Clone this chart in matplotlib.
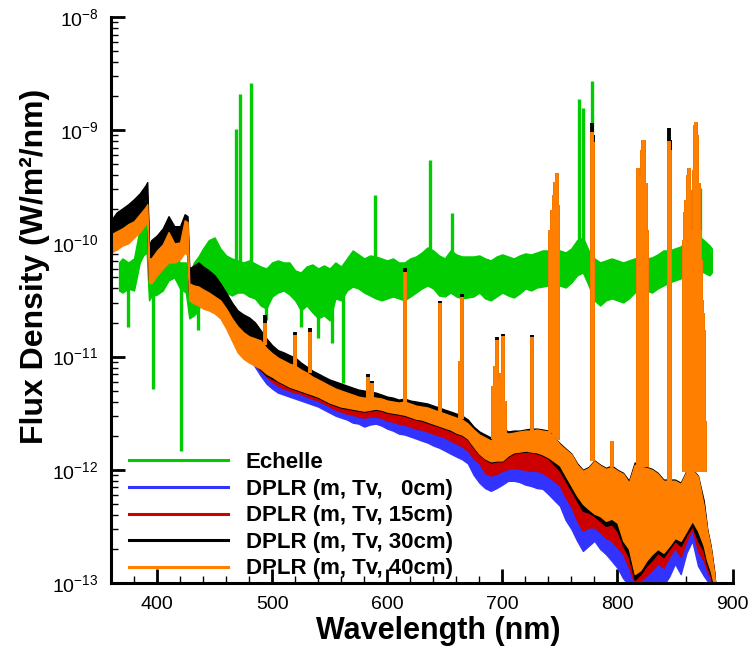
import numpy as np
import matplotlib.pyplot as plt
from matplotlib.lines import Line2D
from matplotlib.ticker import MultipleLocator, LogLocator, NullFormatter

plt.rcParams['font.family'] = 'Liberation Sans'
plt.rcParams['mathtext.fontset'] = 'custom'
plt.rcParams['mathtext.rm'] = 'Liberation Sans'
plt.rcParams['mathtext.it'] = 'Liberation Sans:italic'
plt.rcParams['mathtext.bf'] = 'Liberation Sans:bold'

# all flux values below are tabulated in units of 1e-12 W/m^2/nm
UNIT = 1e-12

# ---- Echelle measurement: noise band (upper / lower edge) ----
ech_wl = [367, 370, 375, 380, 385, 388, 391, 393, 395, 400,
          405, 410, 415, 420, 425, 428, 432, 436, 440, 445,
          450, 455, 460, 465, 470, 475, 480, 485, 490, 495,
          500, 505, 510, 515, 520, 525, 530, 535, 540, 545,
          550, 555, 560, 565, 570, 575, 580, 585, 590, 595,
          600, 605, 610, 615, 620, 625, 630, 635, 640, 645,
          650, 655, 660, 665, 670, 675, 680, 685, 690, 695,
          700, 705, 710, 715, 720, 725, 730, 735, 740, 745,
          750, 755, 760, 765, 770, 775, 780, 785, 790, 795,
          800, 805, 810, 815, 820, 825, 830, 835, 840, 845,
          850, 855, 860, 865, 870, 875, 880, 882]
ech_hi = [67.9, 73.7, 67.9, 73.7, 136, 154, 145, 57.7, 67.9, 70.8,
          76.7, 80.0, 78.3, 67.9, 67.9, 52.2, 67.9, 76.7, 90.3, 107,
          113, 90.3, 78.3, 73.7, 70.8, 67.9, 70.8, 66.6, 62.6, 60.1,
          67.9, 70.8, 67.9, 67.9, 57.7, 55.4, 62.6, 65.2, 60.1, 63.9,
          60.1, 67.9, 62.6, 73.7, 86.7, 80.0, 73.7, 78.3, 76.7, 73.7,
          70.8, 73.7, 67.9, 67.9, 73.7, 76.7, 83.2, 92.2, 86.7, 78.3,
          73.7, 86.7, 80.0, 76.7, 76.7, 76.7, 78.3, 73.7, 70.8, 76.7,
          80.0, 76.7, 73.7, 78.3, 81.6, 80.0, 83.2, 86.7, 86.7, 83.2,
          86.7, 83.2, 90.3, 107, 113, 86.7, 73.7, 67.9, 70.8, 73.7,
          70.8, 67.9, 70.8, 73.7, 76.7, 73.7, 75.2, 80.0, 86.7, 86.7,
          90.3, 94.1, 107, 113, 118, 107, 96.0, 90.3]
ech_lo = [38.4, 36.8, 40.0, 38.4, 67.9, 78.3, 83.2, 31.4, 34.0, 35.4,
          38.4, 47.1, 50.1, 40.0, 36.8, 21.8, 23.1, 25.6, 36.8, 42.5,
          40.0, 38.4, 36.8, 34.7, 36.8, 36.8, 34.0, 32.7, 28.3, 26.6,
          34.0, 36.8, 38.4, 35.4, 31.4, 25.6, 28.3, 24.6, 21.8, 23.1,
          20.9, 32.7, 31.4, 38.4, 41.6, 40.0, 36.8, 34.7, 32.7, 31.4,
          32.7, 34.0, 32.7, 31.4, 34.0, 36.8, 40.0, 42.5, 40.0, 34.7,
          34.0, 36.8, 34.0, 32.7, 33.3, 34.0, 36.8, 32.7, 31.4, 34.0,
          36.8, 34.7, 33.3, 36.1, 40.0, 38.4, 40.8, 41.6, 42.5, 40.0,
          42.5, 40.8, 45.2, 52.2, 55.4, 42.5, 31.4, 28.3, 31.4, 32.7,
          31.4, 30.1, 32.7, 36.8, 38.4, 38.4, 36.8, 40.0, 42.5, 45.2,
          47.1, 49.1, 55.4, 60.1, 57.7, 55.4, 52.2, 55.4]

# Echelle emission lines and absorption dips
ech_up_wl = [468.2, 472.2, 481.5, 589.3, 637, 656.3, 766.5, 770.5, 778.3, 872]
ech_up_base = [60, 60, 60, 55, 60, 55, 70, 70, 70, 80]
ech_up_peak = [1020, 2090, 2610, 266, 543, 185, 1890, 1570, 2720, 307]
ech_dn_wl = [374.6, 396.3, 420.9, 436, 495, 525, 540, 552, 561.7]
ech_dn_top = [55, 50, 55, 45, 40, 40, 40, 40, 45]
ech_dn_bottom = [18.2, 5.22, 1.48, 17.1, 20.9, 18.2, 14.5, 13.1, 5.90]

# ---- DPLR spectra: upper / lower edge of each band ----
dplr_wl = [360, 365, 370, 375, 380, 385, 390, 391.5, 393, 395,
           400, 405, 410, 415, 420, 424, 426.5, 428, 432, 436,
           440, 445, 450, 455, 460, 465, 470, 475, 480, 485,
           490, 495, 500, 505, 510, 515, 520, 525, 530, 535,
           540, 545, 550, 555, 560, 565, 570, 575, 580, 585,
           590, 595, 600, 605, 610, 615, 620, 625, 630, 635,
           640, 645, 650, 655, 660, 665, 670, 675, 680, 685,
           690, 695, 700, 705, 710, 715, 720, 725, 730, 735,
           740, 745, 750, 755, 760, 765, 770, 775, 780, 785,
           790, 795, 800, 805, 810, 815, 820, 825, 830, 835,
           840, 845, 850, 855, 860, 865, 870, 875, 878, 881,
           884, 886]

hi_0cm = [128, 139, 154, 163, 181, 204, 236, 246, 81.6, 79.9,
          92.2, 105, 123, 113, 113, 148, 139, 49.1, 48.1, 47.1,
          44.3, 41.6, 38.4, 34.0, 29.5, 24.1, 20.1, 18.1, 17.1, 16.0,
          14.2, 12.6, 11.2, 10.3, 9.8, 9.22, 8.85, 7.99, 7.37, 6.79,
          6.39, 6.02, 5.66, 5.43, 5.22, 5.01, 4.81, 4.62, 4.52, 4.43,
          4.34, 4.17, 4.01, 3.93, 3.77, 3.85, 3.69, 3.62, 3.55, 3.47,
          3.33, 3.20, 3.07, 2.95, 2.83, 2.72, 2.51, 2.18, 1.97, 1.85,
          1.74, 1.93, 2.13, 1.97, 2.01, 2.01, 2.05, 2.09, 2.09, 2.05,
          2.01, 1.74, 1.54, 1.42, 1.29, 1.04, 0.90, 0.96, 1.09, 1.00,
          0.94, 0.98, 0.90, 0.85, 0.722, 1.04, 0.98, 0.96, 0.92, 0.85,
          0.74, 0.74, 0.74, 0.69, 0.885, 0.92, 0.80, 0.481, 0.278, 0.20,
          0.123, 0.077]
lo_0cm = [94.1, 100, 109, 113, 126, 142, 167, 181, 51.2, 50.1,
          58.9, 67.9, 76.7, 76.7, 81.6, 94.1, 88.5, 35.4, 33.3, 32.0,
          30.1, 28.9, 27.2, 24.6, 20.1, 15.7, 12.4, 10.9, 10.0, 8.16,
          6.79, 5.78, 5.22, 4.81, 4.62, 4.43, 4.26, 4.09, 3.93, 3.77,
          3.62, 3.40, 3.20, 3.01, 2.89, 2.78, 2.61, 2.56, 2.41, 2.51,
          2.56, 2.46, 2.31, 2.22, 2.09, 2.05, 1.97, 1.89, 1.81, 1.74,
          1.64, 1.57, 1.48, 1.39, 1.31, 1.24, 1.14, 0.904, 0.77, 0.69,
          0.652, 0.69, 0.74, 0.80, 0.80, 0.78, 0.74, 0.72, 0.69, 0.68,
          0.61, 0.54, 0.48, 0.36, 0.30, 0.236, 0.192, 0.213, 0.236, 0.20,
          0.18, 0.157, 0.136, 0.11, 0.095, 0.086, 0.086, 0.086, 0.10, 0.105,
          0.095, 0.114, 0.148, 0.12, 0.185, 0.236, 0.142, 0.116, 0.105, 0.086,
          0.077, 0.077]

hi_15cm = [136, 148, 163, 177, 196, 218, 255, 271, 86.7, 86.7,
           100, 113, 131, 116, 118, 154, 145, 52.2, 51.2, 50.1,
           47.1, 44.3, 40.8, 36.1, 31.4, 25.6, 21.8, 19.7, 18.5, 17.1,
           15.1, 13.4, 11.9, 10.7, 10.3, 9.6, 9.22, 8.33, 7.67, 7.08,
           6.65, 6.27, 5.90, 5.66, 5.43, 5.22, 5.01, 4.81, 4.71, 4.62,
           4.52, 4.34, 4.17, 4.09, 3.93, 4.01, 3.85, 3.77, 3.69, 3.62,
           3.47, 3.33, 3.20, 3.07, 2.95, 2.83, 2.61, 2.27, 2.05, 1.93,
           1.81, 2.01, 2.22, 2.05, 2.09, 2.09, 2.13, 2.18, 2.18, 2.13,
           2.09, 1.81, 1.61, 1.48, 1.34, 1.09, 0.94, 1.00, 1.14, 1.04,
           0.98, 1.02, 0.94, 0.885, 0.75, 1.09, 1.02, 1.00, 0.96, 0.885,
           0.77, 0.77, 0.77, 0.722, 0.92, 0.96, 0.83, 0.50, 0.289, 0.205,
           0.125, 0.077]
lo_15cm = [90.3, 96, 105, 109, 120, 136, 160, 174, 49.1, 48.1,
           56.5, 65.2, 73.7, 73.7, 78.3, 90.3, 85.0, 34.0, 32.0, 30.8,
           28.9, 27.7, 26.1, 23.6, 19.3, 15.1, 11.9, 10.5, 9.6, 8.5,
           7.52, 6.65, 6.02, 5.54, 5.22, 5.01, 4.81, 4.71, 4.43, 4.26,
           4.09, 3.85, 3.62, 3.40, 3.27, 3.14, 3.07, 2.95, 2.89, 2.95,
           2.95, 2.89, 2.72, 2.67, 2.56, 2.51, 2.41, 2.31, 2.27, 2.18,
           2.09, 2.01, 1.93, 1.81, 1.71, 1.61, 1.48, 1.26, 1.14, 0.94,
           0.89, 0.92, 0.98, 1.02, 1.04, 1.02, 1.00, 0.98, 0.98, 0.94,
           0.87, 0.80, 0.72, 0.57, 0.471, 0.354, 0.289, 0.31, 0.31, 0.28,
           0.25, 0.236, 0.205, 0.18, 0.136, 0.10, 0.105, 0.116, 0.13, 0.15,
           0.136, 0.17, 0.205, 0.17, 0.236, 0.30, 0.192, 0.157, 0.128, 0.11,
           0.086, 0.077]

hi_30cm = [160, 188, 204, 222, 246, 277, 326, 348, 96, 107,
           118, 136, 174, 142, 142, 181, 174, 60.1, 63.9, 67.9,
           62.6, 57.7, 52.2, 44.3, 36.8, 30.1, 25.6, 23.6, 22.2, 20.1,
           17.1, 14.5, 12.6, 11.4, 10.9, 10.3, 9.8, 8.85, 8.16, 7.52,
           7.08, 6.65, 6.27, 6.02, 5.78, 5.54, 5.32, 5.11, 5.01, 4.91,
           4.81, 4.62, 4.43, 4.34, 4.17, 4.26, 4.09, 4.01, 3.93, 3.85,
           3.69, 3.55, 3.40, 3.27, 3.14, 3.01, 2.78, 2.41, 2.18, 2.05,
           1.93, 2.13, 2.36, 2.18, 2.22, 2.22, 2.27, 2.31, 2.31, 2.27,
           2.22, 1.93, 1.71, 1.54, 1.39, 1.14, 1.00, 1.06, 1.21, 1.11,
           1.04, 1.09, 1.00, 0.94, 0.80, 1.16, 1.09, 1.06, 1.02, 0.94,
           0.82, 0.82, 0.82, 0.77, 0.98, 1.02, 0.885, 0.532, 0.30, 0.213,
           0.128, 0.077]
lo_30cm = [86.7, 92.2, 100, 105, 116, 131, 154, 167, 47.1, 46.2,
           54.4, 62.6, 70.8, 70.8, 75.2, 86.7, 81.6, 32.7, 30.8, 29.5,
           27.7, 26.6, 25.1, 22.6, 18.5, 14.5, 11.4, 10.0, 9.22, 8.5,
           7.67, 6.79, 6.39, 6.02, 5.66, 5.32, 5.11, 4.91, 4.71, 4.52,
           4.34, 4.09, 3.85, 3.69, 3.55, 3.47, 3.40, 3.33, 3.27, 3.33,
           3.40, 3.33, 3.20, 3.14, 3.07, 3.01, 2.89, 2.78, 2.72, 2.61,
           2.51, 2.41, 2.31, 2.22, 2.09, 2.01, 1.85, 1.57, 1.37, 1.24,
           1.16, 1.19, 1.19, 1.31, 1.40, 1.43, 1.45, 1.43, 1.40, 1.34,
           1.26, 1.11, 0.98, 0.80, 0.652, 0.532, 0.434, 0.42, 0.39, 0.354,
           0.32, 0.33, 0.289, 0.213, 0.17, 0.107, 0.12, 0.142, 0.16, 0.185,
           0.17, 0.20, 0.236, 0.213, 0.267, 0.32, 0.236, 0.192, 0.142, 0.118,
           0.086, 0.077]

hi_40cm = [120, 128, 136, 148, 157, 181, 209, 222, 73.7, 73.7,
           86.7, 98, 126, 100, 102, 160, 154, 44.3, 42.5, 41.6,
           39.2, 36.8, 34.0, 31.4, 26.6, 21.8, 18.5, 16.4, 15.1, 14.5,
           13.9, 11.9, 10.7, 9.8, 9.22, 8.67, 8.33, 7.67, 7.22, 6.65,
           6.27, 5.90, 5.54, 5.22, 5.01, 4.81, 4.62, 4.43, 4.34, 4.43,
           4.34, 4.26, 4.09, 4.01, 3.93, 4.01, 3.85, 3.69, 3.62, 3.55,
           3.40, 3.27, 3.14, 3.01, 2.89, 2.78, 2.56, 2.27, 2.05, 1.93,
           1.81, 2.05, 2.22, 2.09, 2.13, 2.18, 2.22, 2.22, 2.27, 2.22,
           2.18, 1.93, 1.67, 1.51, 1.37, 1.11, 0.98, 1.04, 1.19, 1.09,
           1.02, 1.06, 0.98, 0.92, 0.77, 1.11, 1.06, 1.04, 1.00, 0.92,
           0.80, 0.80, 0.80, 0.75, 0.96, 1.00, 0.87, 0.481, 0.289, 0.205,
           0.123, 0.077]
lo_40cm = [83.2, 88.5, 96, 100, 113, 126, 148, 160, 45.2, 44.3,
           52.2, 60.1, 67.9, 67.9, 72.3, 83.2, 78.3, 31.4, 29.5, 28.3,
           26.6, 25.6, 24.1, 21.8, 17.8, 13.9, 10.9, 9.6, 8.85, 8.33,
           7.84, 7.08, 6.65, 6.14, 5.78, 5.43, 5.22, 5.01, 4.81, 4.62,
           4.43, 4.17, 3.93, 3.77, 3.62, 3.55, 3.47, 3.40, 3.33, 3.40,
           3.47, 3.40, 3.27, 3.20, 3.14, 3.07, 2.95, 2.83, 2.78, 2.67,
           2.56, 2.46, 2.36, 2.27, 2.13, 2.05, 1.89, 1.61, 1.39, 1.26,
           1.19, 1.21, 1.21, 1.34, 1.43, 1.45, 1.48, 1.45, 1.43, 1.37,
           1.29, 1.19, 1.09, 0.885, 0.722, 0.589, 0.50, 0.45, 0.41, 0.39,
           0.354, 0.37, 0.34, 0.236, 0.20, 0.12, 0.13, 0.157, 0.18, 0.20,
           0.185, 0.213, 0.25, 0.236, 0.289, 0.354, 0.289, 0.213, 0.157, 0.128,
           0.095, 0.077]

# atomic lines in the DPLR spectra (continuum level, peak at 40cm and 30cm)
line_wl = [493.7, 519.7, 532.8, 583, 587, 615.4, 646, 663.5, 664.8, 692,
           693.5, 695, 697, 698.5, 700.3, 702, 725.6, 741.5, 743, 744.5,
           746, 747.3, 748.5, 777.7, 778.8, 795.1, 818.3, 819.5, 821, 822.3,
           823.5, 825, 826, 844.4, 845.6, 858, 859, 860, 861, 862,
           863, 864, 865.5, 866.5, 867.5, 868.5, 869.5, 870.5, 871.5, 872.5,
           873.5, 874.5, 875.5, 876.5]
line_base = [12.6, 8.33, 7.22, 4.43, 4.43, 4.01, 3.27, 2.83, 2.83, 1.89,
             1.93, 2.05, 2.05, 2.13, 2.22, 2.13, 2.22, 2.18, 2.1, 2.0,
             1.95, 1.9, 1.85, 1.19, 1.19, 1.06, 1.06, 1.06, 1.06, 1.06,
             1.06, 1.06, 1.06, 0.80, 0.80, 0.96, 0.96, 0.96, 0.96, 0.96,
             0.96, 0.96, 0.96, 0.96, 0.96, 0.96, 0.96, 0.96, 0.96, 0.96,
             0.96, 0.96, 0.96, 0.96]
peak_40cm = [19.7, 15.4, 16.4, 6.65, 5.90, 55.4, 29.5, 9.22, 33.3, 5.54,
             8.33, 13.9, 6.14, 7.22, 15.1, 4.09, 14.8, 131, 196, 266,
             348, 417, 218, 960, 784, 1.81, 462, 400, 666, 816,
             816, 340, 131, 800, 666, 107, 188, 241, 400, 462,
             295, 131, 81.6, 443, 1111, 1180, 903, 340, 131, 70.8,
             31.4, 24.1, 17.1, 2.72]
peak_30cm = [23.1, 16.4, 17.8, 7.08, 6.14, 60.1, 30.8, 9.22, 35.4, 5.54,
             8.33, 14.8, 6.14, 7.22, 16.0, 4.09, 15.4, 131, 196, 266,
             348, 417, 218, 1160, 903, 1.81, 462, 400, 666, 816,
             816, 340, 131, 1045, 816, 107, 188, 241, 400, 462,
             295, 131, 81.6, 443, 1111, 1180, 903, 340, 131, 70.8,
             31.4, 24.1, 17.1, 2.72]

labels = ['Echelle', 'DPLR (m, Tv,   0cm)', 'DPLR (m, Tv, 15cm)',
          'DPLR (m, Tv, 30cm)', 'DPLR (m, Tv, 40cm)']
colors = ['#00cc00', '#3333ff', '#cc0000', '#000000', '#ff8000']


def arr(v):
    return np.asarray(v, dtype=float) * UNIT


fig = plt.figure(figsize=(7.52, 6.52), dpi=100)
ax = fig.add_axes([0.1476, 0.1058, 0.8265, 0.8681])
ax.set_yscale('log')

# Echelle
ax.fill_between(ech_wl, arr(ech_lo), arr(ech_hi), color=colors[0], lw=1.0, zorder=1)
ax.vlines(ech_up_wl, arr(ech_up_base), arr(ech_up_peak), color=colors[0], lw=2.4, zorder=1)
ax.vlines(ech_dn_wl, arr(ech_dn_bottom), arr(ech_dn_top), color=colors[0], lw=2.4, zorder=1)

# DPLR bands, 0cm at the back, 40cm on top
bands = [(lo_0cm, hi_0cm), (lo_15cm, hi_15cm), (lo_30cm, hi_30cm), (lo_40cm, hi_40cm)]
for k, (lo, hi) in enumerate(bands):
    c = colors[k + 1]
    ax.fill_between(dplr_wl, arr(lo), arr(hi), color=c, lw=1.0, zorder=2 + k)
    if k == 2:
        ax.vlines(line_wl, arr(line_base), arr(peak_30cm), color=c, lw=2.8, zorder=2 + k)
    if k == 3:
        ax.vlines(line_wl, arr(line_base), arr(peak_40cm), color=c, lw=2.8, zorder=2 + k)

ax.set_xlim(360, 900)
ax.set_ylim(1e-13, 1e-8)

ax.xaxis.set_major_locator(MultipleLocator(100))
ax.xaxis.set_minor_locator(MultipleLocator(20))
ax.yaxis.set_major_locator(LogLocator(base=10, numticks=10))
ax.yaxis.set_minor_locator(LogLocator(base=10, subs=np.arange(2, 10), numticks=10))
ax.yaxis.set_minor_formatter(NullFormatter())

for side in ['top', 'right']:
    ax.spines[side].set_visible(False)
for side in ['left', 'bottom']:
    ax.spines[side].set_linewidth(2.2)
    ax.spines[side].set_zorder(10)

ax.tick_params(which='both', direction='in', top=False, right=False, labelsize=14)
ax.tick_params(which='major', length=10, width=2.0, pad=9)
ax.tick_params(which='minor', length=5, width=1.0)

ax.set_xlabel('Wavelength (nm)', fontsize=22, fontweight='bold')
ax.set_ylabel('Flux Density (W/m\u00b2/nm)', fontsize=23, fontweight='bold')
ax.xaxis.set_label_coords(0.526, -0.058)
ax.yaxis.set_label_coords(-0.098, 0.56)

handles = [Line2D([], [], color=c, lw=2.2) for c in colors]
ax.legend(handles, labels, loc='upper left', bbox_to_anchor=(0.029, 0.231),
          frameon=False, borderpad=0, borderaxespad=0, handlelength=4.45,
          handletextpad=0.8, labelspacing=0.25,
          prop={'family': 'Liberation Sans', 'weight': 'bold', 'size': 16})

fig.savefig('out.png', dpi=100)
